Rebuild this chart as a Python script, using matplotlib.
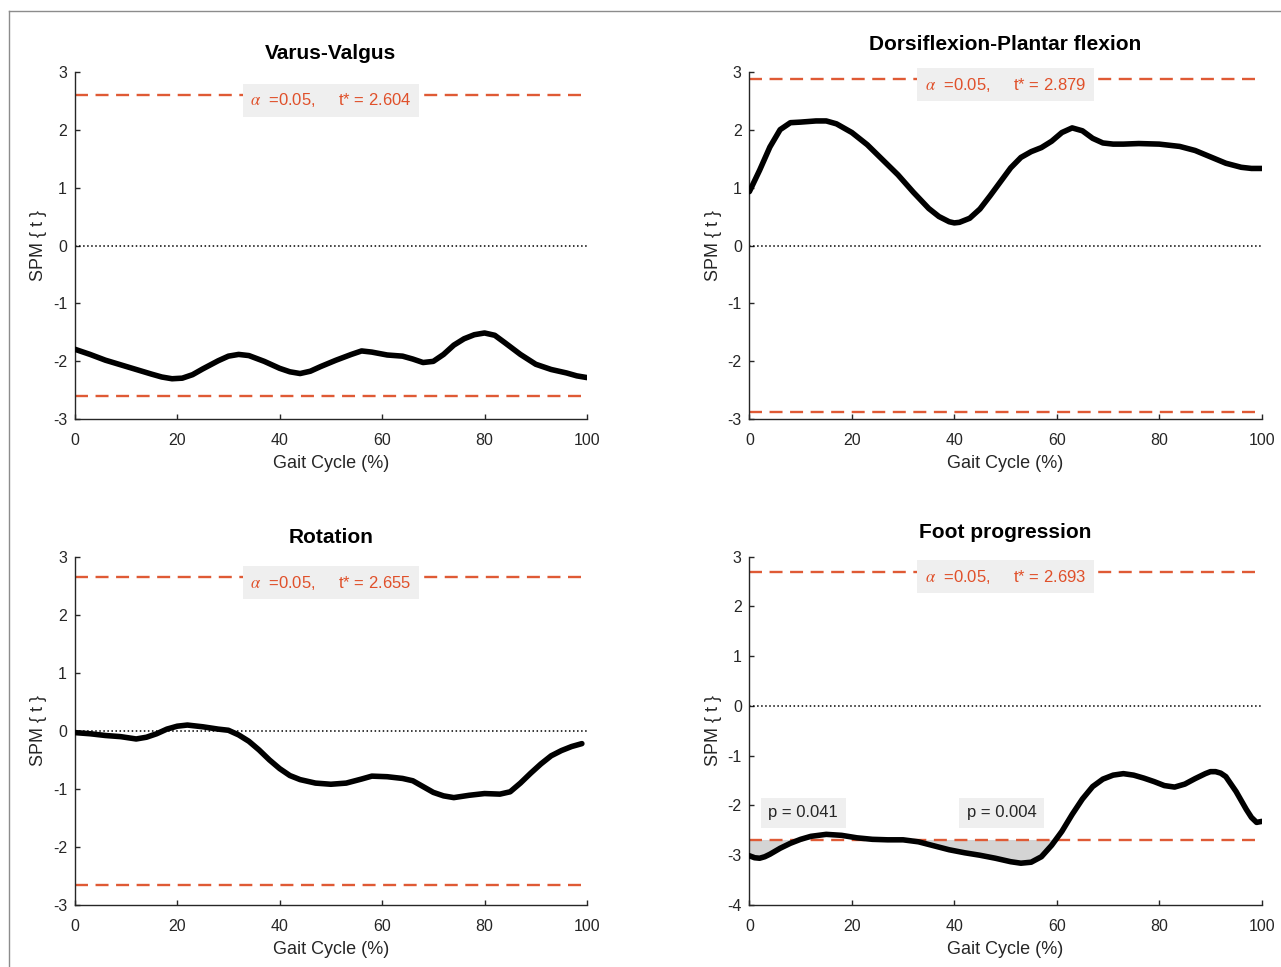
import numpy as np
import matplotlib.pyplot as plt
from matplotlib.lines import Line2D

plt.rcParams['font.family'] = ['Liberation Sans', 'DejaVu Sans']
plt.rcParams['mathtext.fontset'] = 'stix'
plt.rcParams['axes.unicode_minus'] = False

# gait cycle (%) and SPM{t} curves
x_vv = [0, 3, 6, 9, 12, 15, 17, 19, 21, 23, 25, 28, 30, 32, 34, 37, 40, 42, 44, 46, 48, 51,
        54, 56, 58, 61, 64, 66, 68, 70, 72, 74, 76, 78, 80, 82, 84, 87, 90, 93, 96, 98, 100]
t_vv = [-1.79, -1.88, -1.98, -2.06, -2.14, -2.22, -2.27, -2.30, -2.29, -2.23, -2.13, -1.99,
        -1.91, -1.88, -1.90, -2.00, -2.12, -2.18, -2.21, -2.17, -2.09, -1.98, -1.88, -1.82,
        -1.84, -1.89, -1.91, -1.96, -2.02, -2.00, -1.88, -1.72, -1.61, -1.54, -1.51, -1.55,
        -1.68, -1.88, -2.05, -2.14, -2.20, -2.25, -2.28]

x_dp = [0, 2, 4, 6, 8, 10, 13, 15, 17, 20, 23, 26, 29, 32, 35, 37, 39, 40, 41, 43, 45, 47,
        49, 51, 53, 55, 57, 59, 61, 63, 65, 67, 69, 71, 73, 76, 80, 84, 87, 90, 93, 96, 98, 100]
t_dp = [0.93, 1.30, 1.70, 2.00, 2.12, 2.13, 2.15, 2.15, 2.10, 1.95, 1.74, 1.48, 1.22, 0.92,
        0.64, 0.50, 0.41, 0.39, 0.40, 0.47, 0.63, 0.86, 1.10, 1.34, 1.52, 1.62, 1.69, 1.80,
        1.95, 2.03, 1.98, 1.85, 1.77, 1.75, 1.75, 1.76, 1.75, 1.71, 1.64, 1.53, 1.42, 1.35,
        1.33, 1.33]

x_rot = [0, 3, 6, 9, 12, 14, 16, 18, 20, 22, 25, 28, 30, 32, 34, 36, 38, 40, 42, 44, 47, 50,
         53, 56, 58, 61, 64, 66, 68, 70, 72, 74, 77, 80, 83, 85, 87, 89, 91, 93, 95, 97, 99]
t_rot = [-0.03, -0.05, -0.08, -0.10, -0.14, -0.11, -0.05, 0.03, 0.08, 0.10, 0.07, 0.03, 0.01,
         -0.07, -0.18, -0.33, -0.50, -0.65, -0.77, -0.84, -0.90, -0.92, -0.90, -0.83, -0.78,
         -0.79, -0.82, -0.86, -0.96, -1.06, -1.12, -1.15, -1.11, -1.08, -1.09, -1.05, -0.90,
         -0.73, -0.57, -0.43, -0.34, -0.27, -0.22]

x_fp = [0, 1, 2, 3, 4, 6, 8, 10, 12, 15, 18, 21, 24, 27, 30, 33, 36, 39, 42, 45, 48, 51, 53,
        55, 57, 59, 61, 63, 65, 67, 69, 71, 73, 75, 77, 79, 81, 83, 85, 87, 89, 90, 91, 92,
        93, 95, 97, 98, 99, 100]
t_fp = [-3.01, -3.05, -3.06, -3.03, -2.98, -2.86, -2.76, -2.68, -2.62, -2.58, -2.60, -2.65,
        -2.68, -2.69, -2.69, -2.73, -2.81, -2.89, -2.95, -3.00, -3.06, -3.13, -3.16, -3.14,
        -3.03, -2.80, -2.52, -2.18, -1.87, -1.62, -1.47, -1.39, -1.36, -1.39, -1.45, -1.52,
        -1.60, -1.63, -1.57, -1.46, -1.36, -1.32, -1.32, -1.35, -1.42, -1.72, -2.08, -2.24,
        -2.34, -2.32]

titles = ['Varus-Valgus', 'Dorsiflexion-Plantar flexion', 'Rotation', 'Foot progression']
thresholds = [2.604, 2.879, 2.655, 2.693]
ylims = [(-3, 3), (-3, 3), (-3, 3), (-4, 3)]
title_pads = [9.5, 15.5, 9.6, 13.7]

# p-value labels for foot progression clusters: (x, y, text)
p_labels = [(3.7, -2.15, 'p = 0.041'), (42.4, -2.15, 'p = 0.004')]

curves = [(x_vv, t_vv), (x_dp, t_dp), (x_rot, t_rot), (x_fp, t_fp)]

W, H = 1281, 967
fig = plt.figure(figsize=(W / 100, H / 100), dpi=100)
positions = [
    [74.7 / W, 1 - 419.3 / H, 512.3 / W, 347.6 / H],
    [749.4 / W, 1 - 419.3 / H, 512.3 / W, 347.6 / H],
    [74.7 / W, 1 - 905 / H, 512.3 / W, 348.3 / H],
    [749.4 / W, 1 - 905 / H, 512.3 / W, 348.3 / H],
]

axis_col = '#262626'
thr_col = '#DF5A35'
txt_col = '#E0502A'

for i, (xs, ts) in enumerate(curves):
    ax = fig.add_axes(positions[i])
    thr = thresholds[i]
    xs = np.array(xs)
    ts = np.array(ts)

    if i == 3:
        ax.fill_between(xs, ts, -thr, where=ts < -thr, interpolate=True,
                        color='#D4D4D4', lw=0, zorder=1)

    ax.axhline(0, color='black', ls=':', lw=1.1, zorder=2)
    ax.axhline(thr, color=thr_col, lw=1.7, dashes=(5.5, 3.2), zorder=2)
    ax.axhline(-thr, color=thr_col, lw=1.7, dashes=(5.5, 3.2), zorder=2)
    ax.plot(xs, ts, color='black', lw=4.0, solid_capstyle='round',
            solid_joinstyle='round', zorder=3)

    ax.text(50, thr - 0.1, r'$\alpha$  =0.05,     t* = %.3f' % thr, color=txt_col,
            fontsize=12, ha='center', va='center', zorder=4,
            bbox=dict(boxstyle='square,pad=0.45', fc='#EFEFEF', ec='none'))

    if i == 3:
        for px, py, s in p_labels:
            ax.text(px, py, s, color=axis_col, fontsize=12, ha='left', va='center',
                    zorder=4, bbox=dict(boxstyle='square,pad=0.45', fc='#EFEFEF', ec='none'))

    ax.set_xlim(0, 100)
    ax.set_ylim(*ylims[i])
    ax.set_xticks([0, 20, 40, 60, 80, 100])
    ax.set_yticks(np.arange(ylims[i][0], ylims[i][1] + 1))
    ax.spines['top'].set_visible(False)
    ax.spines['right'].set_visible(False)
    for s in ['left', 'bottom']:
        ax.spines[s].set_color(axis_col)
        ax.spines[s].set_linewidth(1.0)
    ax.tick_params(direction='in', length=3.6, width=1.0, colors=axis_col,
                   labelsize=11.5)
    ax.tick_params(axis='x', pad=10)
    ax.tick_params(axis='y', pad=5.5)

    ax.set_title(titles[i], fontsize=15, fontweight='bold', color='black',
                 pad=title_pads[i])
    ax.set_xlabel('Gait Cycle (%)', fontsize=13, color=axis_col, labelpad=5)
    ax.set_ylabel('SPM { t }', fontsize=13, color=axis_col, labelpad=4)

# thin frame lines at top and left of the image
fig.add_artist(Line2D([9 / W, 9 / W], [0, 1 - 11 / H], color='#8C8C8C', lw=1.0))
fig.add_artist(Line2D([9 / W, 1], [1 - 11 / H, 1 - 11 / H], color='#8C8C8C', lw=1.0))

fig.savefig('out.png', dpi=100)
